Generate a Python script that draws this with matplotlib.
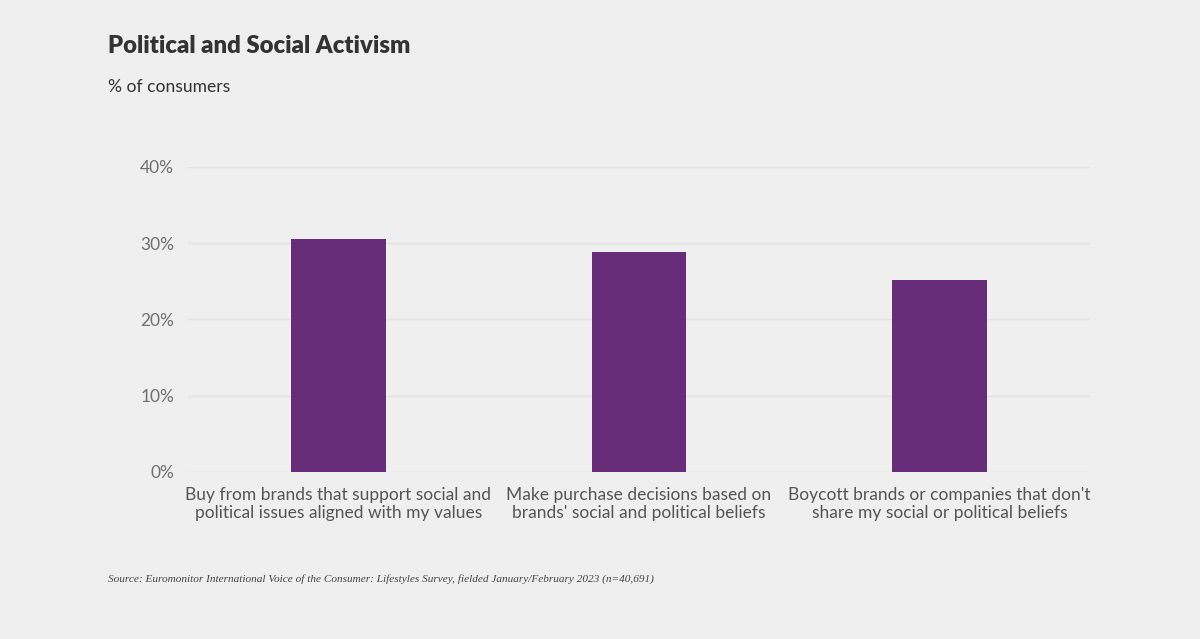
import numpy as np
from matplotlib import pyplot as plt

categories = ["Buy from brands that support social and\npolitical issues aligned with my values",
              "Make purchase decisions based on\nbrands' social and political beliefs",
              "Boycott brands or companies that don't\nshare my social or political beliefs"]
values = [30.6, 28.9, 25.2]
yticks = [0, 10, 20, 30, 40]

bg = '#efefef'
plt.rcParams['font.family'] = ['Lato', 'DejaVu Sans']

fig = plt.figure(figsize=(12, 6.39), dpi=100, facecolor=bg)
ax = fig.add_axes([0.1567, 0.2614, 0.7516, 0.4773])
ax.set_facecolor(bg)

x = np.arange(len(categories))
ax.bar(x, values, width=0.315, color='#682d79', zorder=3)

ax.set_xlim(-0.5, 2.5)
ax.set_ylim(0, 40)
ax.set_yticks(yticks)
ax.set_yticklabels([f'{v}%' for v in yticks], fontsize=12.5, color='#707070')
ax.set_xticks(x)
ax.set_xticklabels(categories, fontsize=12.5, color='#555555', linespacing=1.1)
ax.tick_params(length=0, axis='y', pad=10)
ax.tick_params(length=0, axis='x', pad=11)
ax.grid(axis='y', color='#e2e2e2', linewidth=1, zorder=0)
for s in ax.spines.values():
    s.set_visible(False)

fig.text(108/1200, 1 - 46/639, 'Political and Social Activism', fontsize=17.2, fontweight='heavy',
         color='#333333', va='center', ha='left')
fig.text(108/1200, 1 - 87/639, '% of consumers', fontsize=12.6, color='#333333', va='center', ha='left')
fig.text(108/1200, 1 - 579/639,
         'Source: Euromonitor International Voice of the Consumer: Lifestyles Survey, fielded January/February 2023 (n=40,691)',
         fontsize=8.1, style='italic', family='Liberation Serif', color='#444444', va='center', ha='left')

fig.savefig('out.png', dpi=100, facecolor=bg)
